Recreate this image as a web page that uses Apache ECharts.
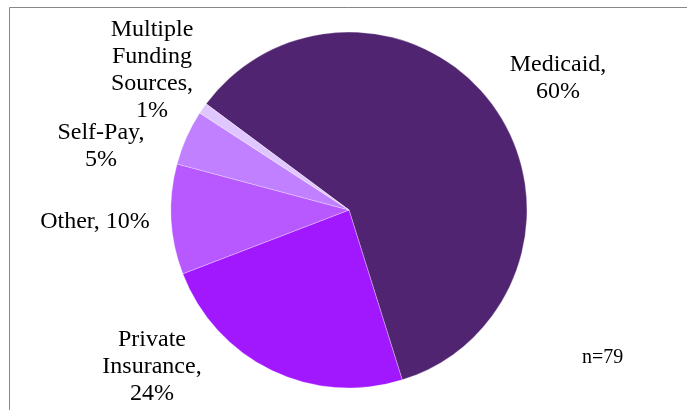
<!DOCTYPE html>
<html>
<head>
<meta charset="utf-8">
<script src="https://cdn.jsdelivr.net/npm/echarts@6/dist/echarts.min.js"></script>
<style>
  html, body { margin: 0; padding: 0; background: #fff; }
  #chart { width: 687px; height: 410px; }
</style>
</head>
<body>
<div id="chart"></div>
<script>
const categories = ['Medicaid', 'Private Insurance', 'Other', 'Self-Pay', 'Multiple Funding Sources'];
const shares = [60, 24, 10, 5, 1];
const sampleNote = 'n=79';

const sliceColors = ['#502470', '#a118ff', '#b858ff', '#c080ff', '#e0c6ff'];

// label centres
const labelSpots = [
  [558, 78],
  [152, 367],
  [95, 222],
  [101, 146],
  [152, 70],
];

const chart = echarts.init(document.getElementById('chart'));

function labelText(p) {
  const pct = Math.round(p.percent) + '%';
  if (p.name === 'Other') return p.name + ', ' + pct;
  return p.name.split(' ').join('\n') + ',\n' + pct;
}

chart.setOption({
  animation: false,
  textStyle: { fontFamily: '"Liberation Serif", "Times New Roman", serif' },
  graphic: [
    {
      type: 'rect',
      shape: { x: 9.5, y: 7.5, width: 700, height: 420 },
      style: { fill: 'none', stroke: '#888', lineWidth: 1 },
      silent: true,
    },
    {
      type: 'text',
      left: 582,
      top: 348,
      style: {
        text: sampleNote,
        fill: '#000',
        font: '20px "Liberation Serif", serif',
      },
    },
  ],
  series: [
    {
      type: 'pie',
      center: [349, 210],
      radius: 178,
      startAngle: 143.4,
      clockwise: true,
      data: categories.map((name, i) => ({
        name,
        value: shares[i],
        itemStyle: { color: sliceColors[i] },
      })),
      itemStyle: { borderColor: 'rgba(255,255,255,0.6)', borderWidth: 0.5 },
      label: {
        show: true,
        position: 'outside',
        formatter: labelText,
        color: '#000',
        fontSize: 24,
        lineHeight: 27,
        align: 'center',
        fontFamily: '"Liberation Serif", serif',
      },
      labelLine: { show: false },
      labelLayout: (params) => ({
        x: labelSpots[params.dataIndex][0],
        y: labelSpots[params.dataIndex][1],
        align: 'center',
        verticalAlign: 'middle',
      }),
      emphasis: { disabled: true },
    },
  ],
});
</script>
</body>
</html>
